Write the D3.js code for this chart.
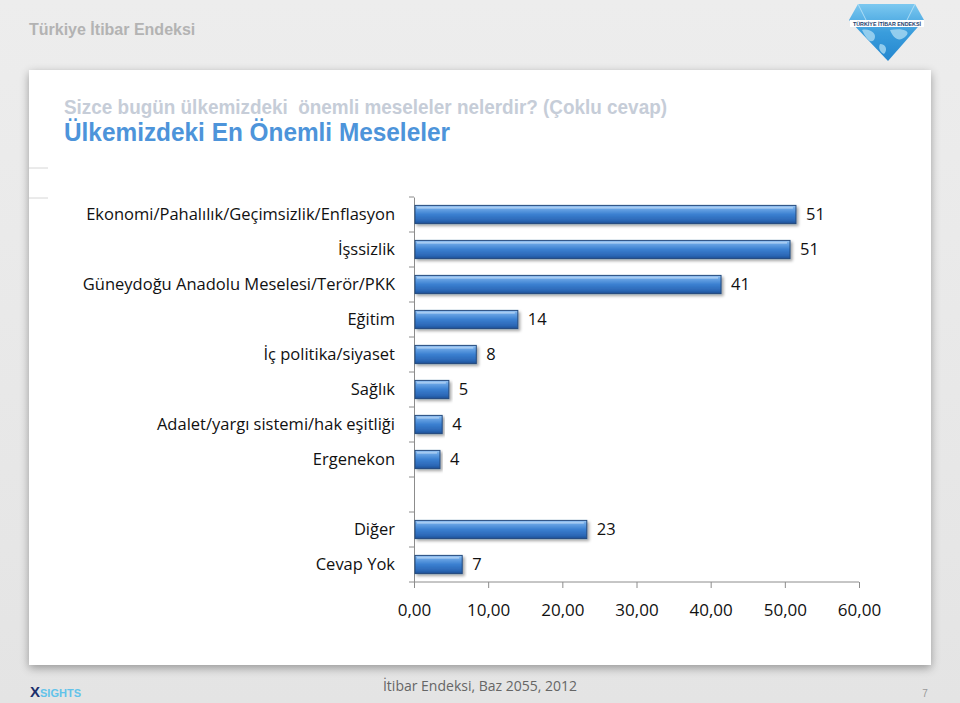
<!DOCTYPE html>
<html><head><meta charset="utf-8">
<script src="https://cdn.jsdelivr.net/npm/d3@7/dist/d3.min.js"></script>
<style>html,body{margin:0;padding:0;background:#e9e9e9;}svg{display:block;}</style>
</head><body>
<script>
const categories = ["Ekonomi/Pahalılık/Geçimsizlik/Enflasyon","İşssizlik","Güneydoğu Anadolu Meselesi/Terör/PKK","Eğitim","İç politika/siyaset","Sağlık","Adalet/yargı sistemi/hak eşitliği","Ergenekon","__gap__","Diğer","Cevap Yok"];
const values = [51.5, 50.7, 41.4, 14.0, 8.4, 4.7, 3.8, 3.5, null, 23.3, 6.5];
const valueLabels = ["51","51","41","14","8","5","4","4","","23","7"];
const xTicks = [0,10,20,30,40,50,60];

const W=960,H=703;
const svg=d3.select("body").append("svg").attr("width",W).attr("height",H);
const defs=svg.append("defs");
const bg=defs.append("linearGradient").attr("id","bg").attr("x1",0).attr("y1",0).attr("x2",0).attr("y2",1);
bg.append("stop").attr("offset",0).attr("stop-color","#ededed");
bg.append("stop").attr("offset",1).attr("stop-color","#e4e4e4");
svg.append("rect").attr("width",W).attr("height",H).attr("fill","url(#bg)");

const sh=defs.append("filter").attr("id","shadow").attr("x","-5%").attr("y","-5%").attr("width","110%").attr("height","112%");
sh.append("feGaussianBlur").attr("in","SourceAlpha").attr("stdDeviation",5);
sh.append("feOffset").attr("dx",0).attr("dy",3).attr("result","b");
sh.append("feComponentTransfer").append("feFuncA").attr("type","linear").attr("slope",0.35);
const fm=sh.append("feMerge");fm.append("feMergeNode");fm.append("feMergeNode").attr("in","SourceGraphic");

// header
svg.append("text").attr("x",29).attr("y",35).text("Türkiye İtibar Endeksi")
  .attr("font-family","Liberation Sans, Arial").attr("font-weight","bold").attr("font-size",16).attr("fill","#b3b3b3");

// logo diamond
const lg=defs.append("linearGradient").attr("id","lg").attr("x1",0).attr("y1",0).attr("x2",0).attr("y2",1);
lg.append("stop").attr("offset",0).attr("stop-color","#7cc8f0");
lg.append("stop").attr("offset",0.5).attr("stop-color","#3a9ddc");
lg.append("stop").attr("offset",1).attr("stop-color","#2386cf");
const logo=svg.append("g");
logo.append("polygon").attr("points","858,4 915,4 924,20 888,61 849,20").attr("fill","url(#lg)");
logo.append("path").attr("d","M862,30 C870,28 878,34 874,40 C870,44 866,38 862,30 Z M890,30 C900,28 912,30 906,36 C900,42 894,40 890,30 Z M880,44 C886,44 888,50 884,54 C880,52 878,48 880,44 Z").attr("fill","#a9daf3").attr("opacity",0.8);
logo.append("line").attr("x1",858).attr("y1",4).attr("x2",866).attr("y2",20).attr("stroke","#bfe4f7").attr("stroke-width",0.8);
logo.append("line").attr("x1",915).attr("y1",4).attr("x2",907).attr("y2",20).attr("stroke","#bfe4f7").attr("stroke-width",0.8);
logo.append("rect").attr("x",850).attr("y",20).attr("width",74).attr("height",7).attr("fill","#ffffff");
logo.append("text").attr("x",887).attr("y",26).attr("text-anchor","middle").text("TÜRKİYE İTİBAR ENDEKSİ")
  .attr("font-family","Liberation Sans, Arial").attr("font-weight","bold").attr("font-size",6.2).attr("fill","#1d3f6e")
  .attr("textLength",68).attr("lengthAdjust","spacingAndGlyphs");

// panel
svg.append("rect").attr("x",29).attr("y",70).attr("width",902).attr("height",595).attr("fill","#ffffff").attr("filter","url(#shadow)");
svg.append("line").attr("x1",29).attr("x2",48).attr("y1",168).attr("y2",168).attr("stroke","#d6d6d6");
svg.append("line").attr("x1",29).attr("x2",48).attr("y1",198).attr("y2",198).attr("stroke","#d6d6d6");

svg.append("text").attr("x",64).attr("y",114).text("Sizce bugün ülkemizdeki  önemli meseleler nelerdir? (Çoklu cevap)")
  .attr("font-family","Liberation Sans, Arial").attr("font-weight","600").attr("font-size",21).attr("fill","#c6cdd8").attr("xml:space","preserve")
  .attr("textLength",603).attr("lengthAdjust","spacingAndGlyphs");
svg.append("text").attr("x",64).attr("y",141).text("Ülkemizdeki En Önemli Meseleler")
  .attr("font-family","Liberation Sans, Arial").attr("font-weight","600").attr("font-size",26).attr("fill","#4d94da")
  .attr("textLength",386).attr("lengthAdjust","spacingAndGlyphs");

// chart
const x=d3.scaleLinear().domain([0,60]).range([414,859]);
const y=d3.scaleBand().domain(categories).range([197,582]).paddingInner(0.48).paddingOuter(0.24);
const band=d3.scaleBand().domain(categories).range([197,582]);
const font="Open Sans, Lato, sans-serif";

const barG=defs.append("linearGradient").attr("id","barG").attr("x1",0).attr("y1",0).attr("x2",0).attr("y2",1);
[[0,"#9cc6f2"],[0.18,"#6aa6e6"],[0.5,"#3b7fd0"],[0.85,"#2a66b4"],[1,"#1d4f92"]].forEach(s=>barG.append("stop").attr("offset",s[0]).attr("stop-color",s[1]));
const bsh=defs.append("filter").attr("id","bsh").attr("x","-5%").attr("y","-30%").attr("width","115%").attr("height","180%");
bsh.append("feGaussianBlur").attr("in","SourceAlpha").attr("stdDeviation",1.5);
bsh.append("feOffset").attr("dx",2).attr("dy",2);
bsh.append("feComponentTransfer").append("feFuncA").attr("type","linear").attr("slope",0.35);
const bm=bsh.append("feMerge");bm.append("feMergeNode");bm.append("feMergeNode").attr("in","SourceGraphic");

const data=categories.map((c,i)=>({c,v:values[i],l:valueLabels[i]})).filter(d=>d.v!=null);

// y axis
const yAxis=d3.axisLeft(band).tickSize(0).tickFormat(d=>d==="__gap__"?"":d);
const ya=svg.append("g").attr("transform","translate(414,0)").call(yAxis);
ya.select(".domain").attr("stroke","#8c8c8c");
ya.selectAll("text").attr("font-family",font).attr("font-size",16.5).attr("fill","#111").attr("x",-19).attr("dy","0.32em");
// band boundary ticks
const bounds=categories.map(c=>band(c)).concat([582]);
svg.append("g").selectAll("line").data(bounds).join("line")
  .attr("x1",409).attr("x2",414).attr("y1",d=>d).attr("y2",d=>d).attr("stroke","#8c8c8c");

// x axis
const xAxis=d3.axisBottom(x).tickValues(xTicks).tickSize(6).tickFormat(d=>d3.format(".2f")(d).replace(".",","));
const xa=svg.append("g").attr("transform","translate(0,582)").call(xAxis);
xa.select(".domain").attr("stroke","#8c8c8c").attr("d","M414,0H859");
xa.selectAll(".tick line").attr("stroke","#8c8c8c");
xa.selectAll("text").attr("font-family",font).attr("font-size",17).attr("fill","#111").attr("y",22);

// bars
const bars=svg.append("g");
bars.selectAll("rect").data(data).join("rect")
  .attr("x",x(0)+1).attr("y",d=>y(d.c)).attr("width",d=>x(d.v)-x(0)-1).attr("height",y.bandwidth())
  .attr("fill","url(#barG)").attr("stroke","#234a7e").attr("stroke-width",1).attr("filter","url(#bsh)");
bars.selectAll("line.hl").data(data).join("line").attr("class","hl")
  .attr("x1",x(0)+3).attr("x2",d=>x(d.v)-3).attr("y1",d=>y(d.c)+2.5).attr("y2",d=>y(d.c)+2.5)
  .attr("stroke","#c4ddf7").attr("stroke-width",1.2).attr("opacity",0.8);
bars.selectAll("text").data(data).join("text")
  .attr("x",d=>x(d.v)+10).attr("y",d=>y(d.c)+y.bandwidth()/2).attr("dy","0.36em")
  .text(d=>d.l).attr("font-family",font).attr("font-size",16.5).attr("fill","#111");

// footer
const xs=svg.append("text").attr("x",30).attr("y",697).attr("font-family","Liberation Sans, Arial").attr("font-weight","bold").attr("font-size",11);
xs.append("tspan").text("X").attr("fill","#1c2f6b").attr("font-size",15);
xs.append("tspan").text("SIGHTS").attr("fill","#62c3ea");
svg.append("text").attr("x",480).attr("y",691).attr("text-anchor","middle").text("İtibar Endeksi, Baz 2055, 2012")
  .attr("font-family",font).attr("font-size",14).attr("fill","#666");
svg.append("text").attr("x",925).attr("y",697).attr("text-anchor","middle").text("7")
  .attr("font-family","Liberation Sans, Arial").attr("font-size",10).attr("fill","#999");
</script>
</body></html>
